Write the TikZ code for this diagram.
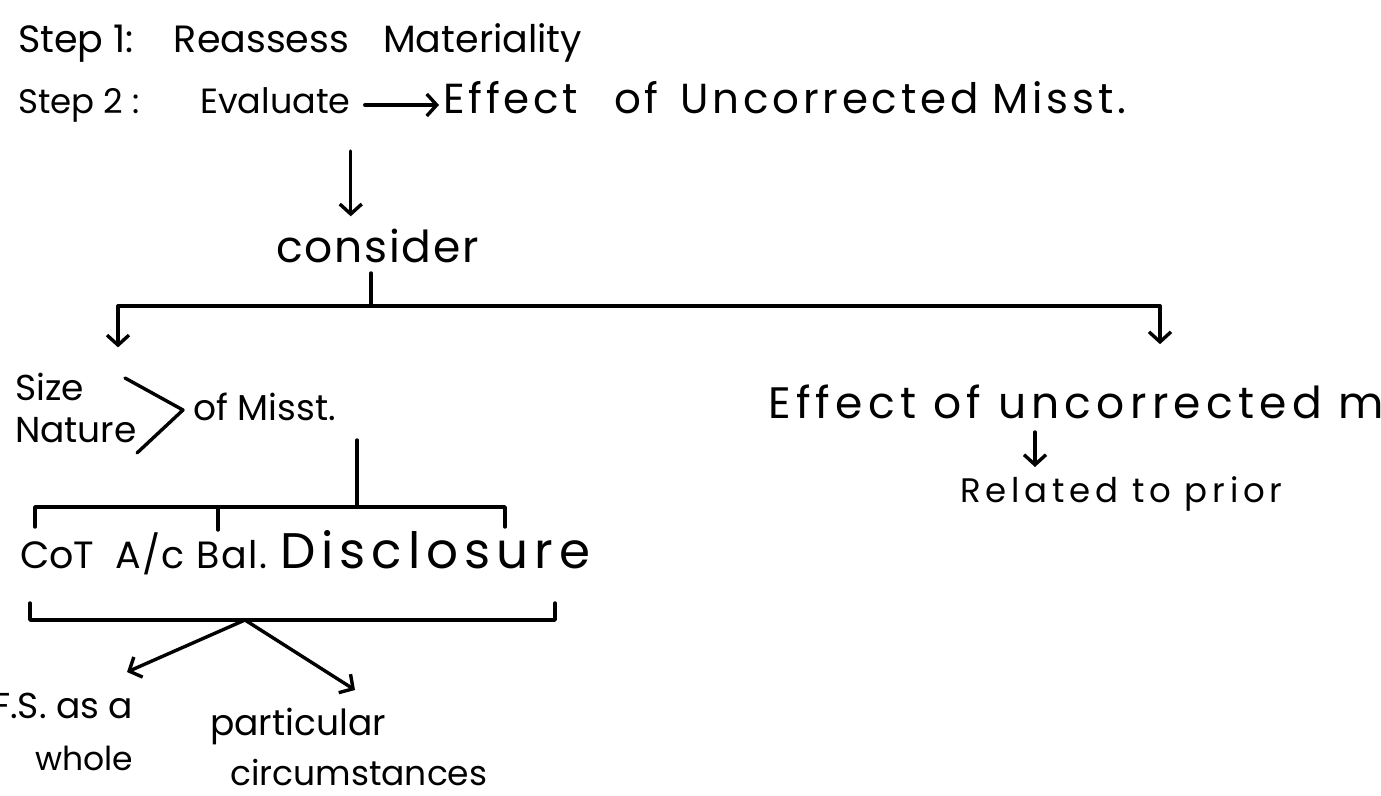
\documentclass[tikz,border=0pt]{standalone}
\usepackage{fontspec}
\setmainfont{Poppins}
\usetikzlibrary{arrows.meta,calc}
% font size and letter spacing for the handwritten-looking labels
\newcommand\hwfont[2]{\fontsize{#1}{#1}\selectfont\addfontfeature{LetterSpace=#2}}
\begin{document}
\begin{tikzpicture}[x=1pt,y=-1pt,
  ink/.style={line width=3.4pt, line cap=round, line join=round},
  arr/.style={ink, -{Straight Barb[length=10pt,width=22pt,line width=3.4pt]}},
  hw/.style={inner sep=0pt, anchor=base west, font=\hwfont#1},
  hw/.default={36}{0}]
\useasboundingbox (0,0) rectangle (1381,795);
\clip (0,0) rectangle (1381,795);

% headings
\node[hw={38}{0}] (step1) at (18,52) {Step 1:\hspace{40pt}Reassess\hspace{34pt}Materiality};
\node[hw={34}{0}] (step2) at (18,113) {Step 2 :};
\node[hw={35}{0}] (eval) at (200,113) {Evaluate};
\node[hw={42}{9}] (effect) at (443,113) {Effect\hspace{36pt}of\hspace{22pt}Uncorrected\hspace{14pt}Misst.};
\node[hw={44}{4}] (consider) at (276,262) {consider};

% first level
\node[hw] (size) at (15,400) {Size};
\node[hw] (nature) at (15,442) {Nature};
\node[hw] (misst) at (193,420) {of Misst.};
\node[hw={44}{12}] (effect2) at (768,418) {Effect of uncorrected m};
\node[hw={34}{14}] (related) at (960,502) {Related to prior};

% second level
\node[hw={38}{0}] (cot) at (20,568) {CoT};
\node[hw={38}{4}] (acbal) at (115,568) {A/c Bal.};
\node[hw={50}{12}] (disc) at (280,568) {Disclosure};

% third level
\node[hw] (fs) at (-8,718) {F.S. as a};
\node[hw={33}{0}] (whole) at (35,770) {whole};
\node[hw] (part) at (210,735) {particular};
\node[hw={34.5}{0}] (circ) at (230,785) {circumstances};

% Evaluate -> Effect, Evaluate -> consider
\draw[arr] ($(eval.base east)+(14,-8)$) -- ($(effect.base west)+(-4,-8)$);
\coordinate (e1) at ($(eval.base east)+(0,38)$);
\draw[arr] (e1) -- ([yshift=12pt]e1 |- consider.north);

% consider bus
\coordinate (busM) at (371,306);
\coordinate (busL) at (118,306);
\coordinate (busR) at (1160,306);
\draw[ink] ([yshift=33pt]busM) -- (busM);
\draw[ink] (busL) -- (busR);
\draw[arr] (busL) -- ([yshift=25pt]busL |- size.north);
\draw[arr] (busR) -- ([yshift=40pt]busR |- effect2.north);

% Size / Nature brace
\coordinate (gt1) at (125,378);
\coordinate (vtx) at (183,410);
\coordinate (gt2) at (137,453);
\draw[ink] (gt1) -- (vtx) -- (gt2);

% of Misst. -> CoT / A/c Bal. / Disclosure
\coordinate (m0) at (357,440);
\coordinate (m1) at (357,507);
\coordinate (b1L) at (35,507);
\coordinate (b1R) at (505,507);
\coordinate (b1M) at (218,507);
\draw[ink] (m0) -- (m1);
\draw[ink] ([yshift=-20pt]b1L) -- (b1L) -- (b1R) -- ([yshift=-20pt]b1R);
\draw[ink] (b1M) -- ([yshift=-23pt]b1M);

% bracket under the three items
\coordinate (b2L) at (30,620);
\coordinate (b2R) at (555,620);
\coordinate (apex) at (245,620);
\draw[ink] ([yshift=17pt]b2L) -- (b2L) -- (b2R) -- ([yshift=17pt]b2R);
\coordinate (t1) at (127,672);
\coordinate (t2) at (355,690);
\draw[arr] (apex) -- (t1);
\draw[arr] (apex) -- (t2);

% Effect of uncorrected -> Related to prior
\coordinate (r0) at (1035,432);
\coordinate (r1) at (1035,467);
\draw[arr] (r0) -- (r1);
\end{tikzpicture}
\end{document}
